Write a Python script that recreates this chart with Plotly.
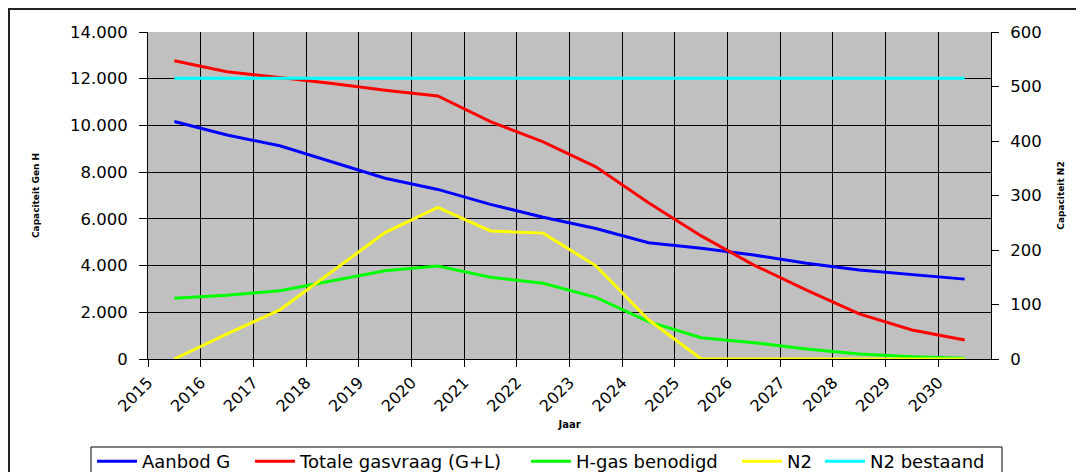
import plotly.graph_objects as go

years = list(range(2015, 2031))
year_labels = [str(y) for y in years]

aanbod_g = [10170, 9590, 9130, 8420, 7740, 7260, 6620, 6070, 5590, 4980, 4740, 4450, 4100, 3810, 3600, 3420]
totale_gasvraag = [12770, 12300, 12050, 11800, 11510, 11260, 10160, 9300, 8230, 6690, 5270, 4020, 2950, 1930, 1240, 810]
h_gas_benodigd = [2600, 2730, 2920, 3340, 3780, 3980, 3500, 3240, 2640, 1600, 910, 700, 430, 210, 100, 30]
n2 = [0, 46, 90, 161, 232, 278, 235, 231, 171, 72, 0, 0, 0, 0, 0, 0]
n2_bestaand = [515] * 16

series_names = ["Aanbod G", "Totale gasvraag (G+L)", "H-gas benodigd", "N2", "N2 bestaand"]
series_colors = ["#0000FF", "#FF0000", "#00FF00", "#FFFF00", "#00FFFF"]
series_values = [aanbod_g, totale_gasvraag, h_gas_benodigd, n2, n2_bestaand]
series_axis = ["y", "y", "y", "y2", "y2"]

# points sit in the middle of each year's category band
x_mid = [y + 0.5 for y in years]

FONT = "DejaVu Sans"
OFF = 8  # page body margin

W, H = 1084 - OFF, 472 - OFF
L, T = 148 - OFF, 32 - OFF
R = W - (991 - OFF)
B = H - (359 - OFF)
pw, ph = W - L - R, H - T - B


def px(xp):
    return (xp - OFF - L) / pw


def py(yp):
    return (H + OFF - B - yp) / ph


legend_starts = [97, 255, 531, 742, 825]

fig = go.Figure()
legend_layouts = {}
for i, (name, color, vals, ax) in enumerate(zip(series_names, series_colors, series_values, series_axis)):
    lname = "legend" if i == 0 else f"legend{i + 1}"
    fig.add_trace(go.Scatter(x=x_mid, y=vals, name=name, mode="lines", yaxis=ax,
                             legend=lname, line=dict(color=color, width=3)))
    legend_layouts[lname] = dict(
        orientation="h", x=px(legend_starts[i] - 5), y=py(443), xanchor="left", yanchor="top",
        bgcolor="rgba(0,0,0,0)", borderwidth=0, itemwidth=40,
        font=dict(family=FONT, size=18, color="black"))

fig.update_layout(
    width=W, height=H,
    margin=dict(l=L, r=R, t=T, b=B, autoexpand=False),
    paper_bgcolor="white",
    plot_bgcolor="#C0C0C0",
    separators=",.",
    font=dict(family=FONT, color="black", size=16),
    showlegend=True,
    xaxis=dict(range=[2015, 2031], tickvals=years, ticktext=year_labels, tickangle=-45,
               showgrid=True, gridcolor="black", gridwidth=1, zeroline=False,
               showline=True, linecolor="black", linewidth=1,
               ticks="outside", ticklen=7, tickcolor="black",
               tickfont=dict(family=FONT, size=16),
               title=dict(text="<b>Jaar</b>", font=dict(family=FONT, size=10), standoff=6)),
    yaxis=dict(range=[0, 14000], dtick=2000, tickformat=",d",
               showgrid=True, gridcolor="black", gridwidth=1, zeroline=False,
               showline=True, linecolor="black", linewidth=1,
               ticks="outside", ticklen=8, tickcolor="black", ticklabelstandoff=8,
               tickfont=dict(family=FONT, size=16.5),
               title=dict(text="<b>Capaciteit Gen H</b>", font=dict(family=FONT, size=9), standoff=28)),
    yaxis2=dict(range=[0, 600], dtick=100, overlaying="y", side="right",
                showgrid=False, zeroline=False,
                showline=True, linecolor="black", linewidth=1,
                ticks="outside", ticklen=7, tickcolor="black", ticklabelstandoff=8,
                tickfont=dict(family=FONT, size=16.5),
                title=dict(text="<b>Capaciteit N2</b>", font=dict(family=FONT, size=9), standoff=16)),
    shapes=[
        dict(type="rect", xref="paper", yref="paper",
             x0=px(9), y0=py(495), x1=px(1100), y1=py(9),
             line=dict(color="#222222", width=2), fillcolor="rgba(0,0,0,0)", layer="below"),
        dict(type="rect", xref="paper", yref="paper",
             x0=px(91), y0=py(485), x1=px(1002), y1=py(447),
             line=dict(color="black", width=1), fillcolor="white", layer="below"),
    ],
    **legend_layouts,
)

fig.write_html("out.html")
